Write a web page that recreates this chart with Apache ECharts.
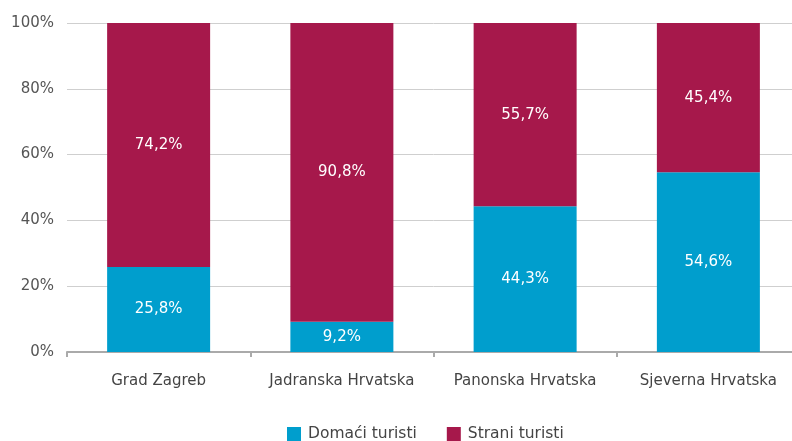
<!DOCTYPE html>
<html>
<head>
<meta charset="utf-8">
<script src="https://cdn.jsdelivr.net/npm/echarts@6/dist/echarts.min.js"></script>
<style>
html, body { margin: 0; padding: 0; background: #fff; overflow: hidden; }
#chart { width: 800px; height: 441px; }
</style>
</head>
<body>
<div id="chart"></div>
<script>
const categories = ['Grad Zagreb', 'Jadranska Hrvatska', 'Panonska Hrvatska', 'Sjeverna Hrvatska'];
const domaci = [25.8, 9.2, 44.3, 54.6];
const strani = [74.2, 90.8, 55.7, 45.4];
const seriesNames = ['Domaći turisti', 'Strani turisti'];

const fontFamily = '"DejaVu Sans", sans-serif';
const fmt = v => v.toFixed(1).replace('.', ',') + '%';

const chart = echarts.init(document.getElementById('chart'));
chart.setOption({
    animation: false,
    color: ['#009ecd', '#a6184b'],
    textStyle: { fontFamily: fontFamily },
    grid: { left: 67, top: 23, right: 0, bottom: 89, containLabel: false },
    legend: {
        top: 421,
        left: 282,
        itemWidth: 14,
        itemHeight: 14,
        itemGap: 30,
        icon: 'rect',
        textStyle: { fontSize: 15.5, color: '#444', fontFamily: fontFamily, padding: [0, 0, 0, 2] },
        data: seriesNames
    },
    xAxis: {
        type: 'category',
        data: categories,
        axisLine: { lineStyle: { color: '#aaa', width: 2 } },
        axisTick: { show: true, interval: 0, length: 5, lineStyle: { color: '#aaa', width: 2 } },
        axisLabel: { interval: 0, fontSize: 15, color: '#444', margin: 22 }
    },
    yAxis: {
        type: 'value',
        min: 0,
        max: 100,
        interval: 20,
        axisLabel: { formatter: '{value}%', fontSize: 15, color: '#555', margin: 13 },
        splitLine: { lineStyle: { color: '#cfcfcf', width: 1 } },
        axisLine: { show: false },
        axisTick: { show: false }
    },
    series: [
        {
            name: seriesNames[0],
            type: 'bar',
            stack: 'total',
            barWidth: 103,
            data: domaci,
            label: { show: true, position: 'inside', color: '#fff', fontSize: 15, formatter: p => fmt(p.value) }
        },
        {
            name: seriesNames[1],
            type: 'bar',
            stack: 'total',
            barWidth: 103,
            data: strani,
            label: { show: true, position: 'inside', color: '#fff', fontSize: 15, formatter: p => fmt(p.value) }
        }
    ]
});
window.addEventListener('resize', function () {
    chart.resize();
});
</script>
</body>
</html>
